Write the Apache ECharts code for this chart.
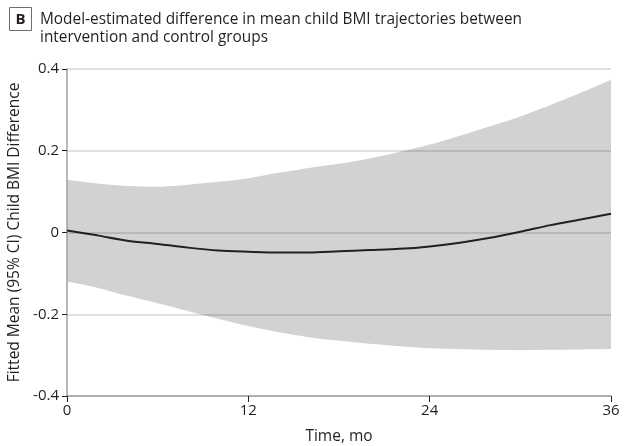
<!DOCTYPE html>
<html>
<head>
<meta charset="utf-8">
<script src="https://cdn.jsdelivr.net/npm/echarts@6/dist/echarts.min.js"></script>
<style>
html,body{margin:0;padding:0;background:#fff;}
#chart{width:629px;height:446px;}
</style>
</head>
<body>
<div id="chart"></div>
<script>
var months = [0,2,4,6,8,10,12,14,16,18,20,22,24,26,28,30,32,34,36];
var meanDiff = [0.005,-0.007,-0.020,-0.028,-0.037,-0.044,-0.047,-0.049,-0.049,-0.046,-0.043,-0.040,-0.034,-0.025,-0.013,0.002,0.018,0.032,0.046];
var upperCI = [0.129,0.120,0.114,0.112,0.117,0.124,0.133,0.146,0.158,0.168,0.181,0.197,0.215,0.237,0.260,0.284,0.312,0.342,0.374];
var lowerCI = [-0.120,-0.135,-0.155,-0.173,-0.192,-0.211,-0.229,-0.244,-0.256,-0.265,-0.272,-0.278,-0.283,-0.285,-0.287,-0.288,-0.287,-0.286,-0.285];
var xTicks = [0,12,24,36];
var yTicks = [-0.4,-0.2,0,0.2,0.4];

var FONT = '"Open Sans", sans-serif';
var chart = echarts.init(document.getElementById('chart'));

var upperData = months.map(function(m,i){return [m, upperCI[i]];});
var lowerData = months.map(function(m,i){return [m, lowerCI[i]];});
var meanData = months.map(function(m,i){return [m, meanDiff[i]];});

chart.setOption({
  animation:false,
  backgroundColor:'#fff',
  grid:{left:67,right:18,top:69,bottom:50,containLabel:false,outerBoundsMode:'none'},
  xAxis:{
    type:'value',min:0,max:36,interval:12,z:3,
    name:'Time, mo',nameLocation:'middle',nameGap:33,
    nameTextStyle:{fontFamily:FONT,fontSize:15.5,color:'#231f20'},
    axisLine:{show:true,onZero:false,lineStyle:{color:'#a0a0a0',width:1.5}},
    axisTick:{show:true,length:6,lineStyle:{color:'#231f20',width:1}},
    axisLabel:{fontFamily:FONT,fontSize:15,color:'#231f20',margin:7,
      formatter:function(v){return xTicks.indexOf(v)>=0?String(v):'';}},
    splitLine:{show:false}
  },
  yAxis:{
    type:'value',min:-0.4,max:0.4,interval:0.2,z:3,
    name:'Fitted Mean (95% CI) Child BMI Difference',nameLocation:'middle',nameGap:40,
    nameTextStyle:{fontFamily:FONT,fontSize:15.5,color:'#231f20'},
    axisLine:{show:true,onZero:false,lineStyle:{color:'#a0a0a0',width:1.5}},
    axisTick:{show:true,length:5,lineStyle:{color:'#231f20',width:1}},
    axisLabel:{fontFamily:FONT,fontSize:15,color:'#231f20',margin:8,
      formatter:function(v){
        var r=Math.round(v*10)/10;
        if(yTicks.indexOf(r)<0)return '';
        if(r===0)return '0';
        return r.toFixed(1);
      }},
    splitLine:{show:true,lineStyle:{color:'rgba(0,0,0,0.12)',width:2}}
  },
  series:[
    {type:'line',data:upperData,symbol:'none',smooth:0.3,z:1,
      lineStyle:{opacity:0},areaStyle:{color:'#d1d2d4',opacity:1,origin:'start'},silent:true},
    {type:'line',data:lowerData,symbol:'none',smooth:0.3,z:2,
      lineStyle:{opacity:0},areaStyle:{color:'#ffffff',opacity:1,origin:'start'},silent:true},
    {type:'line',data:meanData,symbol:'none',smooth:0.3,z:5,
      lineStyle:{color:'#231f20',width:2}}
  ],
  graphic:[
    {type:'rect',shape:{x:9.5,y:7.5,width:22,height:23},
      style:{fill:'#fff',stroke:'#6d6e71',lineWidth:1}},
    {type:'text',x:20.5,y:19.5,style:{text:'B',fontFamily:FONT,fontSize:15,fontWeight:'bold',
      fill:'#231f20',align:'center',verticalAlign:'middle'}},
    {type:'text',x:40,y:11,style:{text:'Model-estimated difference in mean child BMI trajectories between\nintervention and control groups',
      fontFamily:FONT,fontSize:15.4,fill:'#231f20',lineHeight:18,verticalAlign:'top'}}
  ]
});
</script>
</body>
</html>
